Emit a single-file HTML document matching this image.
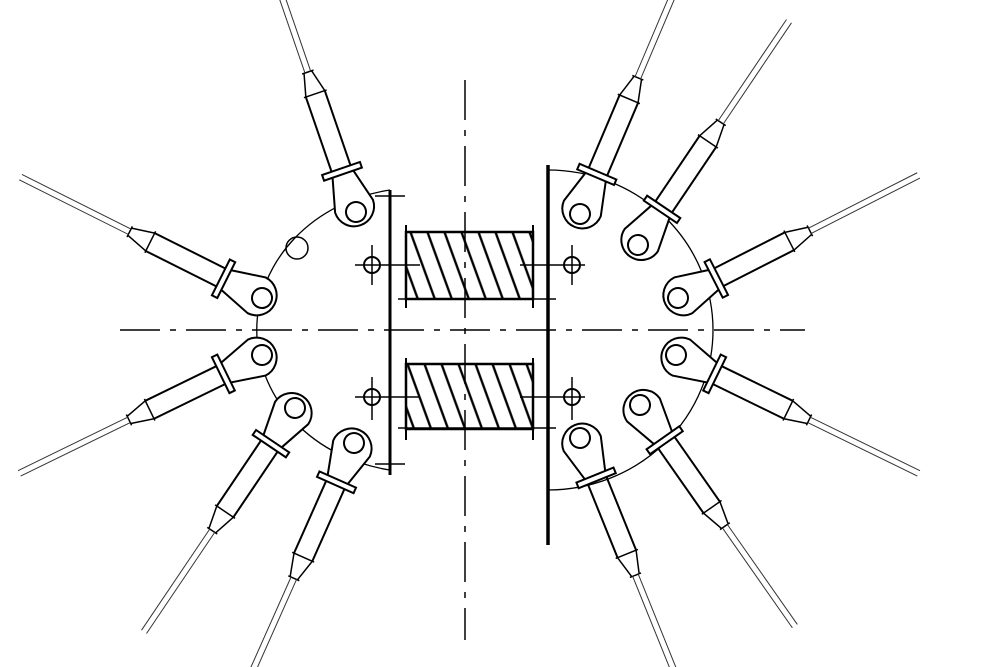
<!DOCTYPE html>
<html><head><meta charset="utf-8"><style>html,body{margin:0;background:#fff}svg{display:block}</style></head>
<body>
<svg width="1000" height="667" viewBox="0 0 1000 667" xmlns="http://www.w3.org/2000/svg">
<defs>
<g id="lug" fill="none" stroke="#000" stroke-width="2">
  <path d="M40 -11 L6 -20 A20 20 0 1 0 6 20 L40 11" fill="#fff"/>
  <circle cx="0" cy="0" r="10"/>
  <rect x="40" y="-20" width="6" height="40" fill="#fff"/>
  <line x1="46" y1="-10" x2="125" y2="-10"/>
  <line x1="46" y1="10" x2="125" y2="10"/>
  <path d="M125 -10 L148 -4 M125 10 L148 4 M125 -12 L125 12 M148 -6 L148 6" stroke-width="1.5"/>
  <path d="M148 -3 L270 -3 M148 3 L270 3" stroke-width="1" stroke="#333"/>
</g>
<pattern id="h" width="17" height="80" patternUnits="userSpaceOnUse" patternTransform="skewX(20)">
  <line x1="3" y1="0" x2="3" y2="80" stroke="#000" stroke-width="2.5"/>
</pattern>
</defs>
<g fill="none" stroke="#000" stroke-width="1.5">
  <!-- center dashed lines -->
  <line x1="120" y1="330" x2="805" y2="330" stroke-dasharray="40,10,6,10"/>
  <line x1="465" y1="80" x2="465" y2="640" stroke-dasharray="40,10,6,10"/>
  <!-- plate arcs -->
  <path d="M390 190 A160 142 0 0 0 390 470" stroke-width="1.3"/>
  <path d="M548 170 A165 160 0 0 1 548 490" stroke-width="1.3"/>
  <!-- vertical bars -->
  <line x1="390" y1="190" x2="390" y2="475" stroke-width="3"/>
  <line x1="375" y1="196" x2="405" y2="196"/>
  <line x1="375" y1="464" x2="405" y2="464"/>
  <line x1="548" y1="165" x2="548" y2="545" stroke-width="3.5"/>
  <!-- small left hole -->
  <circle cx="297" cy="248" r="11"/>
  <!-- coils -->
  <rect x="406" y="232" width="127" height="67" fill="url(#h)" stroke-width="2.5"/>
  <rect x="406" y="364" width="127" height="65" fill="url(#h)" stroke-width="2.5"/>
  <line x1="398" y1="299" x2="556" y2="299"/>
  <line x1="398" y1="428" x2="556" y2="428"/>
  <line x1="406" y1="225" x2="406" y2="308" stroke-width="2"/>
  <line x1="533" y1="225" x2="533" y2="308" stroke-width="2"/>
  <line x1="406" y1="358" x2="406" y2="440" stroke-width="2"/>
  <line x1="533" y1="358" x2="533" y2="440" stroke-width="2"/>
  <!-- terminals -->
  <line x1="355" y1="265" x2="420" y2="265"/><circle cx="372" cy="265" r="8" stroke-width="2"/>
  <line x1="520" y1="265" x2="585" y2="265"/><circle cx="572" cy="265" r="8" stroke-width="2"/>
  <line x1="355" y1="397" x2="420" y2="397"/><circle cx="372" cy="397" r="8" stroke-width="2"/>
  <line x1="520" y1="397" x2="585" y2="397"/><circle cx="572" cy="397" r="8" stroke-width="2"/>
  <line x1="372" y1="245" x2="372" y2="285"/><line x1="572" y1="245" x2="572" y2="285"/>
  <line x1="372" y1="377" x2="372" y2="420"/><line x1="572" y1="377" x2="572" y2="420"/>
</g>
<!-- lugs -->
<use href="#lug" transform="translate(356,212) rotate(251)"/>
<use href="#lug" transform="translate(262,298) rotate(206.6)"/>
<use href="#lug" transform="translate(262,355) rotate(154)"/>
<use href="#lug" transform="translate(295,408) rotate(124)"/>
<use href="#lug" transform="translate(354,443) rotate(114)"/>
<use href="#lug" transform="translate(580,214) rotate(-67)"/>
<use href="#lug" transform="translate(638,245) rotate(-56)"/>
<use href="#lug" transform="translate(678,298) rotate(-27)"/>
<use href="#lug" transform="translate(676,355) rotate(26)"/>
<use href="#lug" transform="translate(640,405) rotate(55)"/>
<use href="#lug" transform="translate(580,438) rotate(68)"/>
</svg>
</body></html>
